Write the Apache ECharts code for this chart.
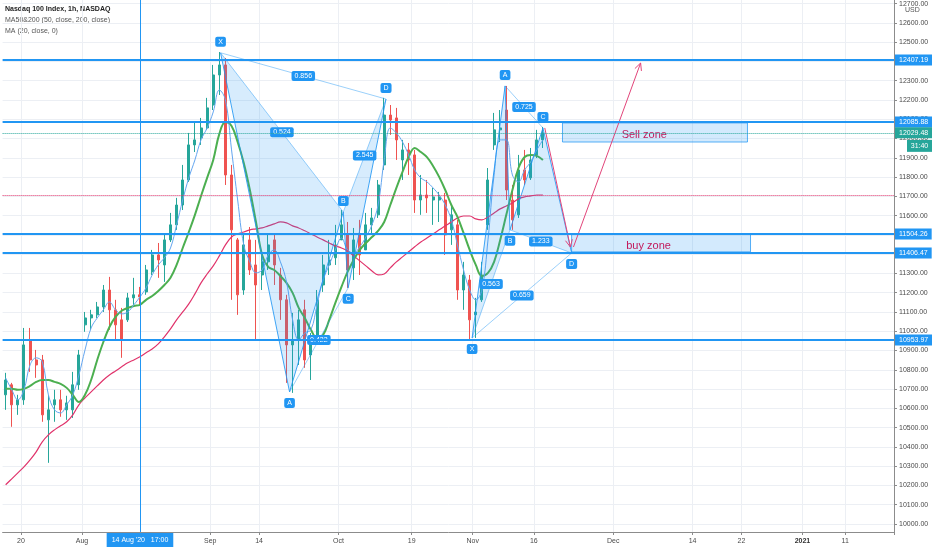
<!DOCTYPE html>
<html><head><meta charset="utf-8">
<script src="https://cdn.jsdelivr.net/npm/echarts@6/dist/echarts.min.js"></script>
<style>html,body{margin:0;padding:0;background:#fff}#c{width:932px;height:550px}</style>
</head><body><div id="c"></div>
<script>
// ---------- DATA ----------
const tradingDays = [
'2020-07-15','2020-07-16','2020-07-17','2020-07-20','2020-07-21','2020-07-22','2020-07-23','2020-07-24','2020-07-27','2020-07-28','2020-07-29','2020-07-30','2020-07-31',
'2020-08-03','2020-08-04','2020-08-05','2020-08-06','2020-08-07','2020-08-10','2020-08-11','2020-08-12','2020-08-13','2020-08-14','2020-08-17','2020-08-18','2020-08-19','2020-08-20','2020-08-21','2020-08-24','2020-08-25','2020-08-26','2020-08-27','2020-08-28','2020-08-31',
'2020-09-01','2020-09-02','2020-09-03','2020-09-04','2020-09-08','2020-09-09','2020-09-10','2020-09-11','2020-09-14','2020-09-15','2020-09-16','2020-09-17','2020-09-18','2020-09-21','2020-09-22','2020-09-23','2020-09-24','2020-09-25','2020-09-28','2020-09-29','2020-09-30',
'2020-10-01','2020-10-02','2020-10-05','2020-10-06','2020-10-07','2020-10-08','2020-10-09','2020-10-12','2020-10-13','2020-10-14','2020-10-15','2020-10-16','2020-10-19','2020-10-20','2020-10-21','2020-10-22','2020-10-23','2020-10-26','2020-10-27','2020-10-28','2020-10-29','2020-10-30',
'2020-11-02','2020-11-03','2020-11-04','2020-11-05','2020-11-06','2020-11-09','2020-11-10','2020-11-11','2020-11-12','2020-11-13','2020-11-16','2020-11-17'];
const futureFirst = '2020-11-18', futureLast = '2021-01-18';
const futureSkipped = ['2020-11-26','2020-11-29','2020-12-25','2020-12-27','2021-01-01'];

// [open, close, low, high]
const ohlc = [
[10670,10747,10592,10784],[10722,10618,10504,10732],[10618,10644,10566,10670],[10644,10929,10618,11017],[10955,10851,10789,11017],
[10851,10825,10758,10903],[10851,10566,10530,10877],[10540,10592,10317,10670],[10618,10644,10530,10696],[10644,10592,10556,10696],
[10592,10628,10540,10665],[10592,10722,10550,10789],[10722,10877,10696,10903],[11033,11069,10997,11100],[11069,11085,11007,11111],
[11085,11126,11069,11152],[11126,11214,11100,11240],[11214,11111,11007,11282],[11111,11033,10955,11163],[11059,10955,10862,11121],
[11059,11173,11048,11199],[11173,11189,11137,11277],[11189,11178,11137,11230],[11204,11318,11189,11344],[11308,11396,11292,11422],
[11396,11370,11277,11458],[11344,11474,11256,11500],[11474,11552,11463,11614],[11552,11655,11526,11692],[11655,11785,11629,11863],
[11785,11967,11775,12029],[11967,11993,11930,12081],[12003,12055,11967,12107],[12055,12159,12045,12211],[12174,12330,12148,12382],
[12330,12382,12226,12449],[12382,11811,11759,12418],[11811,11526,11163,11863],[11474,11189,11085,11484],[11214,11448,11189,11510],
[11474,11318,11292,11541],[11344,11240,10955,11474],[11292,11360,11214,11396],[11360,11448,11318,11500],[11474,11344,11240,11500],
[11292,11163,11059,11329],[11163,10929,10732,11189],[10929,10955,10680,11095],[10955,11059,10825,11111],[11111,10851,10810,11163],
[10877,10929,10747,10991],[10955,11163,10929,11214],[11240,11344,11204,11396],[11344,11370,11292,11474],[11381,11448,11344,11552],
[11474,11552,11474,11629],[11500,11318,11225,11567],[11329,11474,11266,11536],[11500,11396,11292,11578],[11422,11552,11422,11614],
[11552,11588,11500,11640],[11604,11759,11588,11785],[11863,12122,11837,12211],[12122,12096,12019,12174],[12107,11993,11889,12159],
[11889,11941,11785,11993],[11941,11889,11811,11977],[11915,11681,11614,11941],[11681,11707,11604,11811],[11707,11692,11614,11785],
[11681,11697,11552,11744],[11681,11697,11567,11723],[11681,11500,11396,11718],[11526,11604,11448,11645],[11552,11214,11163,11578],
[11214,11292,11111,11360],[11266,11059,10955,11292],[11085,11100,10965,11173],[11163,11292,11152,11360],[11552,11785,11526,11847],
[11967,12045,11941,12133],[12045,12055,11982,12148],[12148,11733,11681,12273],[11681,11578,11526,11759],[11604,11837,11588,11915],
[11837,11785,11759,11941],[11796,11889,11785,11951],[11915,11993,11899,12045],[11993,12029.48,11951,12060]];

const ma50 = [10701,10701,10696,10701,10716,10737,10747,10747,10737,10727,10706,10670,10633,10670,10747,10851,10944,11022,11074,11106,
11121,11131,11137,11163,11183,11209,11240,11277,11344,11432,11515,11604,11702,11796,11889,12024,12086,12065,11982,11873,
11733,11567,11396,11334,11318,11287,11251,11199,11121,11069,11007,10965,10981,11059,11147,11230,11308,11370,11422,11458,
11489,11521,11567,11655,11744,11827,11904,11951,11930,11904,11858,11801,11733,11655,11593,11510,11422,11344,11287,11303,
11360,11474,11604,11733,11847,11904,11915,11910,11889];
const ma200 = [10203,10234,10265,10296,10332,10374,10426,10462,10488,10509,10530,10566,10618,10654,10685,10716,10747,10773,10794,10815,
10836,10851,10867,10888,10908,10934,10971,11012,11059,11100,11142,11194,11251,11297,11339,11391,11448,11489,11505,11515,
11526,11531,11536,11547,11557,11567,11562,11547,11536,11521,11505,11489,11474,11458,11443,11432,11417,11391,11365,11339,
11313,11292,11297,11329,11360,11386,11412,11438,11463,11484,11505,11526,11547,11567,11588,11598,11598,11583,11578,11593,
11614,11635,11650,11666,11687,11697,11702,11707,11707];
const ma20 = [10758,10696,10644,10696,10825,10862,10841,10670,10592,10576,10618,10670,10773,10903,11017,11069,11111,11152,11111,11090,
11100,11137,11178,11225,11292,11344,11381,11432,11552,11681,11796,11889,11993,12055,12138,12252,12200,11941,11681,11448,
11360,11303,11318,11396,11422,11360,11256,11059,10955,10991,11007,11137,11266,11344,11422,11484,11422,11406,11438,11489,
11552,11655,11889,12055,12029,11982,11915,11837,11796,11775,11744,11707,11655,11578,11448,11318,11214,11163,11214,11474,
11811,11993,11993,11811,11775,11837,11879,11941,11993];

const levelLines = [12407.19, 12085.88, 11504.26, 11406.47, 10953.97];
const lastPrice = 12029.48;
const barCountdown = '31:40';
const ma200Last = 11707;
const crosshairDay = '2020-08-14';
const crosshairText = "14 Aug '20   17:00";

const tickDates = ['2020-07-20','2020-08-03','2020-09-01','2020-09-14','2020-10-01','2020-10-19','2020-11-02','2020-11-16','2020-12-01','2020-12-14','2020-12-22','2021-01-04','2021-01-11'];
const tickTexts = ['20','Aug','Sep','14','Oct','19','Nov','16','Dec','14','22','2021','11'];
const yTicks = [10000,10100,10200,10300,10400,10500,10600,10700,10800,10900,11000,11100,11200,11300,11400,11500,11600,11700,11800,11900,12000,12100,12200,12300,12400,12500,12600,12700];

// harmonic patterns: points X,A,B,C,D (bar position, price); ratios on X-B, A-C, B-D, X-D
const pointNames = ['X','A','B','C','D'];
const pattern1Pos = [35.2, 46.5, 55.3, 56.1, 62.3];
const pattern1Price = [12445, 10685, 11619, 11225, 12205];
const pattern1Ratios = ['0.524','0.422','2.545','0.856'];
const pattern2Pos = [76.4, 81.8, 82.6, 88.0, 92.7];
const pattern2Price = [10965, 12273, 11526, 12055, 11406];
const pattern2Ratios = ['0.563','0.725','1.233','0.659'];

const arrowFromPos = [88.3, 93.0], arrowFromPrice = [12055, 11437];
const arrowToPos = [92.5, 104.0], arrowToPrice = [11437, 12392];

const zoneNames = ['Sell zone','buy zone'];
const zoneStartPos = [91.2, 92.7], zoneEndPos = [121.5, 122.0];
const zoneTop = [12081, 11505], zoneBottom = [11982, 11412];
const zoneTextPos = [104.6, 105.3], zoneTextPrice = [12019, 11443];

// ---------- BUILD ----------
const FONT = 'Liberation Sans';
const BLUE = '#2196f3';
function buildFuture() {
  const out = [];
  let t = Date.parse(futureFirst + 'T00:00:00Z');
  const end = Date.parse(futureLast + 'T00:00:00Z');
  while (t <= end) {
    const s = new Date(t).toISOString().slice(0, 10);
    if (!futureSkipped.includes(s)) out.push(s);
    t += 86400000;
  }
  return out;
}
const categories = tradingDays.concat(buildFuture());
const N = categories.length;
const tickMap = {};
tickDates.forEach((d, i) => tickMap[d] = tickTexts[i]);
const isTick = (idx, val) => tickMap[val] !== undefined;

const patternPos = [pattern1Pos, pattern2Pos];
const patternPrice = [pattern1Price, pattern2Price];
const patternRatios = [pattern1Ratios, pattern2Ratios];

function boxText(x, y, text, size) {
  return {type: 'text', x: x, y: y, z2: 10, style: {text: text, fill: '#fff', backgroundColor: BLUE,
    padding: [2, 3, 1, 3], borderRadius: 2, font: (size || 7) + 'px ' + FONT, align: 'center', verticalAlign: 'middle'}};
}

const chart = echarts.init(document.getElementById('c'), null, {renderer: 'canvas'});
const option = {
  animation: false,
  backgroundColor: '#fff',
  textStyle: {fontFamily: FONT},
  grid: {left: 2.6, right: 38, top: 0, bottom: 18, containLabel: false},
  xAxis: [{
    type: 'category', data: categories, boundaryGap: true,
    axisLine: {show: true, onZero: false, lineStyle: {color: '#8c8c8c'}},
    axisTick: {show: true, interval: isTick, length: 3, lineStyle: {color: '#8c8c8c'}},
    axisLabel: {interval: isTick, fontSize: 7, color: '#4a4a4a', margin: 6, padding: [0, 6, 0, 0],
      formatter: v => v === '2021-01-04' ? '{b|' + tickMap[v] + '}' : (tickMap[v] || ''),
      rich: {b: {fontWeight: 'bold', fontSize: 7, color: '#333'}}},
    splitLine: {show: true, interval: isTick, lineStyle: {color: '#eceff4', width: 1}}
  }, {
    type: 'value', min: -0.5, max: N - 0.5, show: false, gridIndex: 0,
    axisLine: {show: false, onZero: false}, splitLine: {show: false}
  }],
  yAxis: [{
    type: 'value', position: 'right', min: 9958, max: 12719,
    axisLine: {show: true, onZero: false, lineStyle: {color: '#8c8c8c'}},
    axisTick: {show: true, customValues: yTicks, length: 3, lineStyle: {color: '#8c8c8c'}},
    axisLabel: {customValues: yTicks, formatter: v => v.toFixed(2), fontSize: 7, color: '#4a4a4a', margin: 5},
    splitLine: {show: true, lineStyle: {color: '#eceff4', width: 1}}
  }],
  graphic: [
    {type: 'text', left: 5, top: 6, style: {text: 'Nasdaq 100 Index, 1h, NASDAQ', font: 'bold 7px ' + FONT, fill: '#222'}},
    {type: 'text', left: 5, top: 17, style: {text: 'MA50&200 (50, close, 200, close)', font: '7px ' + FONT, fill: '#555'}},
    {type: 'text', left: 5, top: 28, style: {text: 'MA (20, close, 0)', font: '7px ' + FONT, fill: '#555'}},
    {type: 'text', left: 905, top: 7, style: {text: 'USD', font: '7px ' + FONT, fill: '#555'}}
  ],
  series: [
    {
      name: 'NDX', type: 'candlestick', xAxisIndex: 0, yAxisIndex: 0, data: ohlc, barWidth: 2.5, z: 2,
      itemStyle: {color: '#26a69a', color0: '#ef5350', borderColor: '#26a69a', borderColor0: '#ef5350', borderWidth: 1},
      markLine: {
        symbol: 'none', silent: true, z: 6, animation: false,
        data: levelLines.map(v => ({yAxis: v, lineStyle: {color: BLUE, width: 2, type: 'solid'},
          label: {position: 'end', distance: 1, formatter: p => Number(p.value).toFixed(2), backgroundColor: BLUE,
            color: '#fff', fontSize: 7, padding: [2, 4, 2, 4]}}))
          .concat([
            {yAxis: lastPrice, lineStyle: {color: '#26a69a', width: 1, type: 'dotted'},
              label: {position: 'end', distance: 1, formatter: p => Number(p.value).toFixed(2), backgroundColor: '#26a69a',
                color: '#fff', fontSize: 7, padding: [2, 4, 2, 4]}},
            {yAxis: ma200Last, lineStyle: {color: '#e0336b', width: 1, type: 'dotted'}, label: {show: false}},
            {xAxis: crosshairDay, lineStyle: {color: BLUE, width: 1, type: 'solid'},
              label: {position: 'start', distance: 1, formatter: crosshairText, backgroundColor: BLUE, color: '#fff',
                fontSize: 7, padding: [4, 5, 3, 5]}}
          ])
      }
    },
    {name: 'MA200', type: 'line', data: ma200, symbol: 'none', smooth: 0.4, z: 3, lineStyle: {color: '#e0336b', width: 1.2}},
    {name: 'MA50', type: 'line', data: ma50, symbol: 'none', smooth: 0.4, z: 3, lineStyle: {color: '#4caf50', width: 2}},
    {name: 'MA20', type: 'line', data: ma20, symbol: 'none', smooth: 0.4, z: 3, lineStyle: {color: '#64a6f0', width: 1}},
    {
      name: 'patterns', type: 'custom', xAxisIndex: 1, yAxisIndex: 0, z: 4,
      data: patternPos.map((p, k) => [p[2], patternPrice[k][2]]),
      renderItem: function (params, api) {
        const k = params.dataIndex;
        const pos = patternPos[k], pr = patternPrice[k], rs = patternRatios[k];
        const pt = pos.map((x, i) => api.coord([x, pr[i]]));
        const ch = [];
        ch.push({type: 'polygon', shape: {points: [pt[0], pt[1], pt[2]]}, style: {fill: 'rgba(33,150,243,0.18)', stroke: null}});
        ch.push({type: 'polygon', shape: {points: [pt[2], pt[3], pt[4]]}, style: {fill: 'rgba(33,150,243,0.18)', stroke: null}});
        ch.push({type: 'polyline', shape: {points: pt}, style: {stroke: 'rgba(33,150,243,0.85)', lineWidth: 1, fill: null}});
        const pairs = [[0, 2], [1, 3], [2, 4], [0, 4]];
        pairs.forEach((pq, j) => {
          const a = pt[pq[0]], b = pt[pq[1]];
          ch.push({type: 'line', shape: {x1: a[0], y1: a[1], x2: b[0], y2: b[1]}, style: {stroke: 'rgba(33,150,243,0.45)', lineWidth: 1}});
          ch.push(boxText((a[0] + b[0]) / 2, (a[1] + b[1]) / 2, rs[j]));
        });
        pt.forEach((p, i) => {
          const prev = pr[i - 1], next = pr[i + 1];
          const high = (prev === undefined || pr[i] > prev) && (next === undefined || pr[i] > next);
          ch.push(boxText(p[0], p[1] + (high ? -11 : 11), pointNames[i]));
        });
        return {type: 'group', children: ch};
      }
    },
    {
      name: 'zones', type: 'custom', xAxisIndex: 1, yAxisIndex: 0, z: 4,
      data: zoneStartPos.map((x, i) => [x, zoneTop[i]]),
      renderItem: function (params, api) {
        const i = params.dataIndex;
        const a = api.coord([zoneStartPos[i], zoneTop[i]]);
        const b = api.coord([zoneEndPos[i], zoneBottom[i]]);
        const t = api.coord([zoneTextPos[i], zoneTextPrice[i]]);
        return {type: 'group', children: [
          {type: 'rect', shape: {x: a[0], y: a[1], width: b[0] - a[0], height: b[1] - a[1]},
            style: {fill: 'rgba(33,150,243,0.2)', stroke: 'rgba(33,150,243,0.75)', lineWidth: 1}},
          {type: 'text', x: t[0], y: t[1], style: {text: zoneNames[i], fill: '#c2185b', font: '11px ' + FONT, align: 'center', verticalAlign: 'middle'}}
        ]};
      }
    },
    {
      name: 'arrows', type: 'custom', xAxisIndex: 1, yAxisIndex: 0, z: 5,
      data: arrowFromPos.map((x, i) => [x, arrowFromPrice[i]]),
      renderItem: function (params, api) {
        const i = params.dataIndex;
        const a = api.coord([arrowFromPos[i], arrowFromPrice[i]]);
        const b = api.coord([arrowToPos[i], arrowToPrice[i]]);
        const ang = Math.atan2(b[1] - a[1], b[0] - a[0]);
        const L = 8, s = 0.45;
        const h1 = [b[0] - L * Math.cos(ang - s), b[1] - L * Math.sin(ang - s)];
        const h2 = [b[0] - L * Math.cos(ang + s), b[1] - L * Math.sin(ang + s)];
        return {type: 'group', children: [
          {type: 'line', shape: {x1: a[0], y1: a[1], x2: b[0], y2: b[1]}, style: {stroke: '#e2457a', lineWidth: 1}},
          {type: 'polyline', shape: {points: [h1, b, h2]}, style: {stroke: '#e2457a', lineWidth: 1, fill: null}}
        ]};
      }
    },
    {
      name: 'countdown', type: 'custom', xAxisIndex: 1, yAxisIndex: 0, z: 7,
      data: [[N - 0.5, lastPrice]],
      renderItem: function (params, api) {
        const p = api.coord([N - 0.5, lastPrice]);
        return {type: 'group', children: [
          {type: 'rect', shape: {x: p[0] + 13, y: p[1] + 7, width: 25, height: 12}, style: {fill: '#26a69a'}},
          {type: 'text', x: p[0] + 25.5, y: p[1] + 13, style: {text: barCountdown, fill: '#fff', font: '7px ' + FONT, align: 'center', verticalAlign: 'middle'}}
        ]};
      }
    }
  ]
};
chart.setOption(option);
</script>
</body></html>
